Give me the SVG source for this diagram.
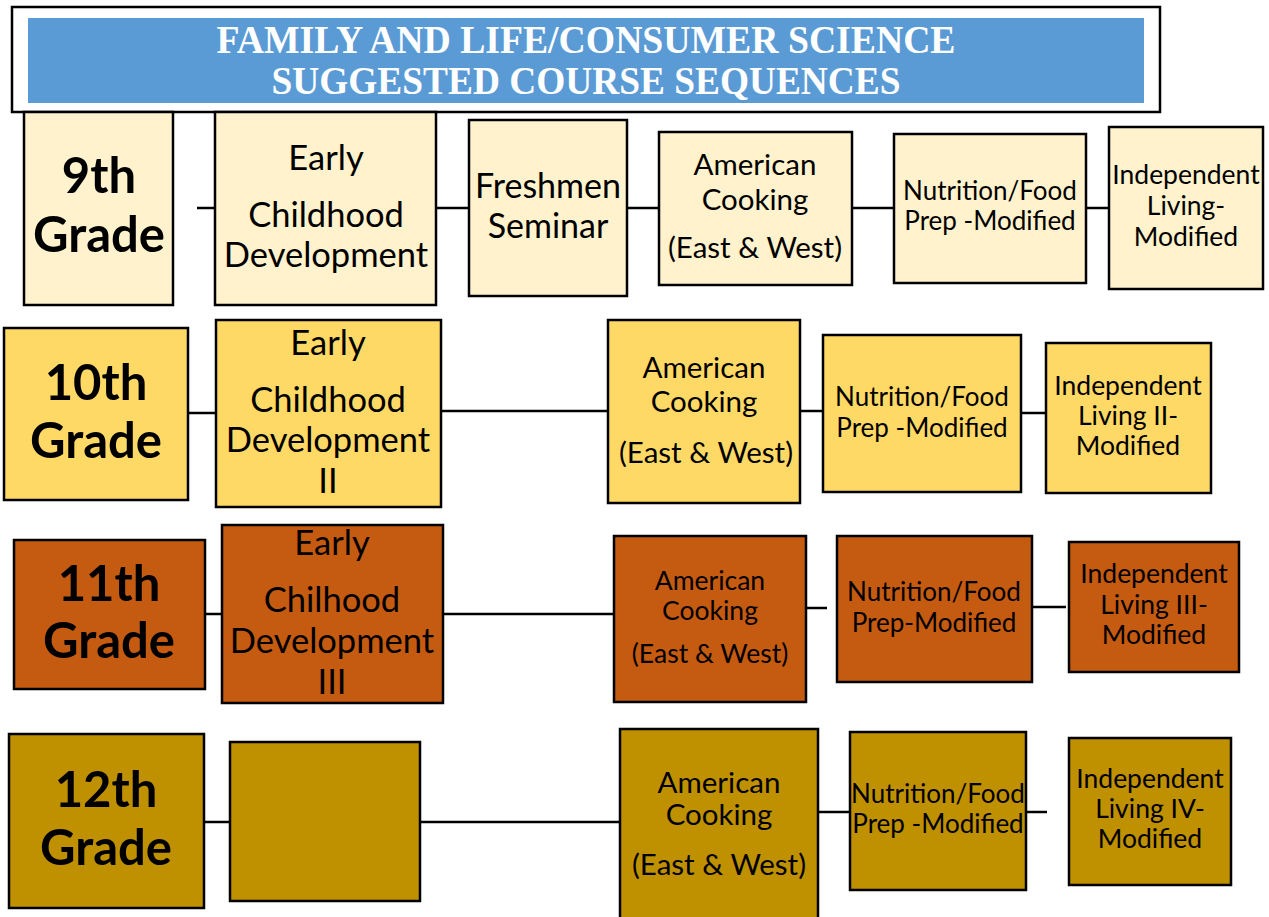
<svg xmlns="http://www.w3.org/2000/svg" width="1269" height="917" viewBox="0 0 1269 917">
<style>
.box{stroke:#000;stroke-width:2.5}
.r1{fill:#FFF2CC}.r2{fill:#FFD966}.r3{fill:#C55A11}.r4{fill:#BF9000}
text{font-family:Lato,"Open Sans","DejaVu Sans",sans-serif;fill:#000;text-anchor:middle}
.g{font-weight:bold;font-size:49px}
.e{font-size:34.5px}
.a{font-size:29.5px}
.n{font-size:26px}
.i{font-size:26.5px}
.t{font-family:"Liberation Serif","Times New Roman",serif;font-weight:bold;font-size:39px;fill:#fff}
.c line{stroke:#000;stroke-width:2.5}
</style>
<rect width="1269" height="917" fill="#fff"/>
<g id="title">
<rect x="12" y="7" width="1148" height="105" fill="#fff" stroke="#000" stroke-width="2.5"/>
<rect x="28" y="18" width="1116" height="85" fill="#5B9BD5"/>
<text class="t" x="586" y="53" textLength="739" lengthAdjust="spacingAndGlyphs">FAMILY AND LIFE/CONSUMER SCIENCE</text>
<text class="t" x="586" y="94" textLength="629" lengthAdjust="spacingAndGlyphs">SUGGESTED COURSE SEQUENCES</text>
</g>
<g id="connectors" class="c">
<line x1="197" y1="208" x2="215" y2="208"/>
<line x1="436" y1="208" x2="469" y2="208"/>
<line x1="627" y1="208" x2="659" y2="208"/>
<line x1="852" y1="208" x2="894" y2="208"/>
<line x1="1086" y1="208" x2="1109" y2="208"/>
<line x1="188" y1="413" x2="216" y2="413"/>
<line x1="441" y1="411" x2="608" y2="411"/>
<line x1="800" y1="411" x2="823" y2="411"/>
<line x1="1021" y1="413" x2="1046" y2="413"/>
<line x1="205" y1="614" x2="222" y2="614"/>
<line x1="443" y1="614" x2="614" y2="614"/>
<line x1="806" y1="608" x2="827" y2="608"/>
<line x1="1032" y1="607" x2="1066" y2="607"/>
<line x1="204" y1="822" x2="230" y2="822"/>
<line x1="420" y1="822" x2="620" y2="822"/>
<line x1="818" y1="812" x2="850" y2="812"/>
<line x1="1026" y1="812" x2="1047" y2="812"/>
</g>
<g id="grade9"><rect class="box r1" x="24" y="112" width="149" height="193"/>
<text class="g" x="99" y="193">9th</text><text class="g" x="99" y="252">Grade</text></g>
<g id="ecd1"><rect class="box r1" x="215" y="112" width="221" height="193"/>
<text class="e" x="326" y="170">Early</text><text class="e" x="326" y="227">Childhood</text><text class="e" x="326" y="267">Development</text></g>
<g id="fresh"><rect class="box r1" x="469" y="120" width="158" height="176"/>
<text x="548" y="198" font-size="34">Freshmen</text><text x="548" y="238" font-size="34">Seminar</text></g>
<g id="ac1"><rect class="box r1" x="659" y="132" width="193" height="153"/>
<text class="a" x="755" y="175">American</text><text class="a" x="755" y="210">Cooking</text><text class="a" x="755" y="258">(East &amp; West)</text></g>
<g id="nf1"><rect class="box r1" x="894" y="134" width="192" height="149"/>
<text class="n" x="990" y="200">Nutrition/Food</text><text class="n" x="990" y="230">Prep -Modified</text></g>
<g id="il1"><rect class="box r1" x="1109" y="127" width="154" height="162"/>
<text class="i" x="1186" y="184">Independent</text><text class="i" x="1186" y="215">Living-</text><text class="i" x="1186" y="246">Modified</text></g>

<g id="grade10"><rect class="box r2" x="4" y="328" width="184" height="172"/>
<text class="g" x="96" y="400">10th</text><text class="g" x="96" y="458">Grade</text></g>
<g id="ecd2"><rect class="box r2" x="216" y="320" width="225" height="187"/>
<text class="e" x="328" y="355">Early</text><text class="e" x="328" y="412">Childhood</text><text class="e" x="328" y="452">Development</text><text class="e" x="328" y="493">II</text></g>
<g id="ac2"><rect class="box r2" x="608" y="320" width="192" height="183"/>
<text class="a" x="704" y="378">American</text><text class="a" x="704" y="412">Cooking</text><text class="a" x="706" y="463">(East &amp; West)</text></g>
<g id="nf2"><rect class="box r2" x="823" y="335" width="198" height="157"/>
<text class="n" x="922" y="406">Nutrition/Food</text><text class="n" x="922" y="437">Prep -Modified</text></g>
<g id="il2"><rect class="box r2" x="1046" y="343" width="165" height="150"/>
<text class="i" x="1128" y="395">Independent</text><text class="i" x="1128" y="425">Living II-</text><text class="i" x="1128" y="455">Modified</text></g>

<g id="grade11"><rect class="box r3" x="14" y="540" width="191" height="149"/>
<text class="g" x="109" y="601">11th</text><text class="g" x="109" y="658">Grade</text></g>
<g id="ecd3"><rect class="box r3" x="222" y="525" width="221" height="178"/>
<text class="e" x="332" y="555">Early</text><text class="e" x="332" y="612">Chilhood</text><text class="e" x="332" y="653">Development</text><text class="e" x="332" y="694">III</text></g>
<g id="ac3"><rect class="box r3" x="614" y="536" width="192" height="166"/>
<text x="710" y="590" font-size="26.5">American</text><text x="710" y="620" font-size="26.5">Cooking</text><text x="710" y="663" font-size="26.5">(East &amp; West)</text></g>
<g id="nf3"><rect class="box r3" x="837" y="536" width="195" height="146"/>
<text class="n" x="934" y="601">Nutrition/Food</text><text class="n" x="934" y="632">Prep-Modified</text></g>
<g id="il3"><rect class="box r3" x="1069" y="542" width="170" height="130"/>
<text class="i" x="1154" y="583">Independent</text><text class="i" x="1154" y="614">Living III-</text><text class="i" x="1154" y="644">Modified</text></g>

<g id="grade12"><rect class="box r4" x="9" y="734" width="195" height="174"/>
<text class="g" x="106" y="807">12th</text><text class="g" x="106" y="865">Grade</text></g>
<g id="empty12"><rect class="box r4" x="230" y="742" width="190" height="159"/></g>
<g id="ac4"><rect class="box r4" x="620" y="729" width="198" height="200"/>
<text class="a" x="719" y="793">American</text><text class="a" x="719" y="825">Cooking</text><text class="a" x="719" y="875">(East &amp; West)</text></g>
<g id="nf4"><rect class="box r4" x="850" y="732" width="176" height="158"/>
<text class="n" x="938" y="803">Nutrition/Food</text><text class="n" x="938" y="833">Prep -Modified</text></g>
<g id="il4"><rect class="box r4" x="1069" y="738" width="162" height="147"/>
<text class="i" x="1150" y="788">Independent</text><text class="i" x="1150" y="818">Living IV-</text><text class="i" x="1150" y="848">Modified</text></g>
</svg>
